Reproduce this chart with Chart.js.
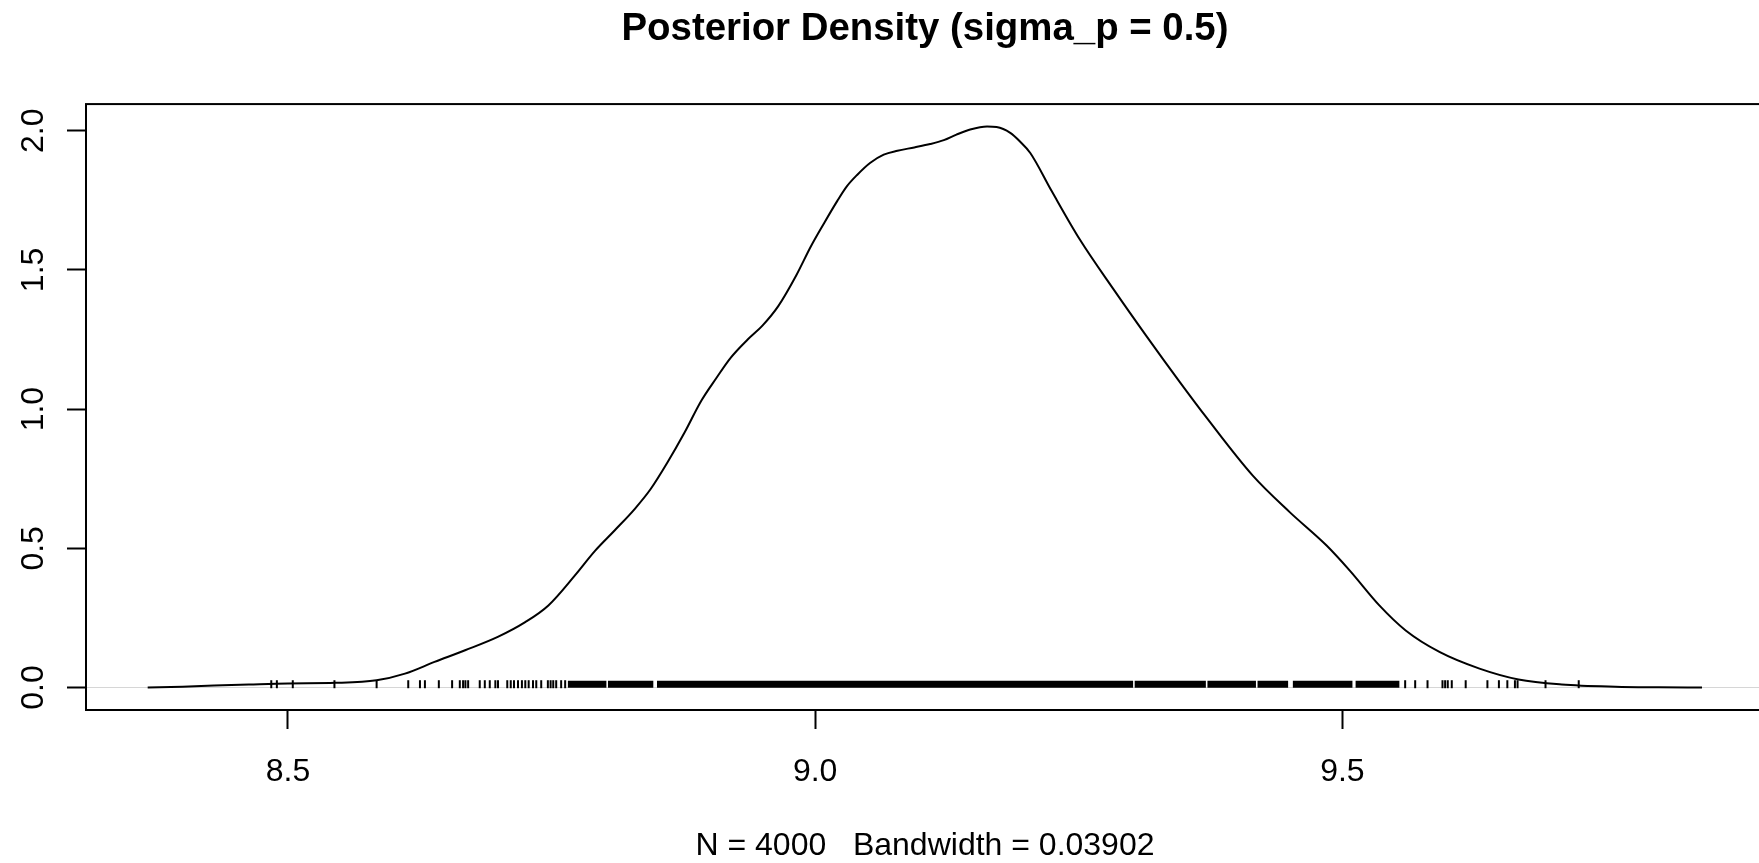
<!DOCTYPE html>
<html>
<head>
<meta charset="utf-8">
<title>Posterior Density (sigma_p = 0.5)</title>
<script src="https://cdn.jsdelivr.net/npm/chart.js@4.4.1/dist/chart.umd.min.js"></script>
<style>
    html, body { margin: 0; padding: 0; background: #fff; overflow: hidden; }
    #wrap { width: 1759px; height: 863px; overflow: hidden; }
    canvas { display: block; }
</style>
</head>
<body>
<div id="wrap"><canvas id="chart" width="1770" height="863"></canvas></div>
<script>
// kernel density estimate
const densityX = [
    8.367, 8.400, 8.430, 8.463, 8.500, 8.545, 8.584, 8.611, 8.639, 8.668,
    8.699, 8.725, 8.747, 8.772, 8.791, 8.810, 8.829, 8.844, 8.860, 8.876,
    8.892, 8.906, 8.920, 8.936, 8.950, 8.965, 8.982, 8.996, 9.008,
    9.021, 9.030, 9.040, 9.052, 9.065, 9.078, 9.094, 9.109, 9.122, 9.134,
    9.147, 9.163, 9.172, 9.185, 9.194, 9.204, 9.224, 9.251, 9.283, 9.314,
    9.346, 9.371, 9.415, 9.450, 9.485, 9.507, 9.535, 9.560, 9.592, 9.630,
    9.667, 9.708, 9.759, 9.800, 9.841
];
const densityY = [
    0.000, 0.003, 0.007, 0.011, 0.015, 0.017, 0.026, 0.050, 0.092, 0.134,
    0.182, 0.235, 0.295, 0.402, 0.490, 0.565, 0.642, 0.713, 0.809, 0.915,
    1.030, 1.110, 1.185, 1.250, 1.300, 1.370, 1.480, 1.585, 1.665,
    1.748, 1.800, 1.842, 1.884, 1.914, 1.928, 1.940, 1.952, 1.966, 1.986,
    2.004, 2.015, 2.013, 1.992, 1.962, 1.920, 1.785, 1.609, 1.430, 1.263,
    1.096, 0.970, 0.761, 0.630, 0.510, 0.420, 0.295, 0.205, 0.128, 0.068,
    0.029, 0.011, 0.003, 0.001, 0.000
];

// single rug ticks in the tails
const rugTicks = [
    8.4842, 8.4895, 8.5046, 8.5441, 8.5841, 8.6141, 8.6252, 8.6299, 8.6431, 8.6557,
    8.6630, 8.6661, 8.6683, 8.6709, 8.6819, 8.6867, 8.6914, 8.6967, 8.6992, 8.7080,
    8.7113, 8.7144, 8.7182, 8.7219, 8.7251, 8.7283, 8.7324, 8.7355, 8.7402, 8.7465,
    8.7491, 8.7516, 8.7544, 8.7591, 8.7629,
    9.5595, 9.5690, 9.5807, 9.5949, 9.5974, 9.5999, 9.6037, 9.6169, 9.6375, 9.6484,
    9.6564, 9.6636, 9.6661, 9.6926, 9.7241
];
// stretches where the rug ticks merge into a solid band
const rugBands = [
    [8.7655, 8.8020], [8.8035, 8.8465], [8.8500, 9.3015], [9.3030, 9.3705],
    [9.3720, 9.4180], [9.4195, 9.4485], [9.4530, 9.5095], [9.5125, 9.5540]
];

const xTicks = [8.5, 9.0, 9.5];
const yTicks = [0, 0.5, 1.0, 1.5, 2.0];
const titleText = 'Posterior Density (sigma_p = 0.5)';
const xLabel = 'N = 4000   Bandwidth = 0.03902';

const RUG_Y = 0.012;

Chart.defaults.font.family = '"Liberation Sans", Arial, Helvetica, sans-serif';
Chart.defaults.color = '#000';

const curve = densityX.map((x, i) => ({x: x, y: densityY[i]}));
const rugPoints = rugTicks.map(x => ({x: x, y: RUG_Y}));
const bandPoints = [];
rugBands.forEach(b => {
    bandPoints.push({x: b[0], y: RUG_Y}, {x: b[1], y: RUG_Y}, {x: b[1], y: null});
});

const boxPlugin = {
    id: 'box',
    afterDraw(chart) {
        const {ctx, chartArea: a} = chart;
        ctx.save();
        ctx.strokeStyle = '#000';
        ctx.lineWidth = 2;
        ctx.strokeRect(a.left, a.top, a.right - a.left, a.bottom - a.top);
        ctx.restore();
    }
};

new Chart(document.getElementById('chart'), {
    type: 'scatter',
    data: {
        datasets: [{
            data: bandPoints,
            showLine: true,
            spanGaps: false,
            borderColor: '#000',
            borderWidth: 7,
            borderCapStyle: 'butt',
            pointRadius: 0
        }, {
            data: rugPoints,
            pointStyle: 'line',
            rotation: 90,
            radius: 4,
            borderWidth: 2,
            borderColor: '#000',
            backgroundColor: '#000'
        }, {
            data: curve,
            showLine: true,
            borderColor: '#000',
            borderWidth: 2,
            cubicInterpolationMode: 'monotone',
            pointRadius: 0
        }]
    },
    options: {
        responsive: false,
        animation: false,
        events: [],
        layout: {padding: {left: 0, right: 2, top: 0, bottom: 0}},
        plugins: {
            legend: {display: false},
            tooltip: {enabled: false},
            title: {
                display: true,
                text: titleText,
                fullSize: false,
                color: '#000',
                font: {size: 38.4, weight: 'bold'},
                padding: {top: 6, bottom: 52}
            }
        },
        scales: {
            x: {
                type: 'linear',
                min: 8.3085,
                max: 9.8998,
                afterBuildTicks: s => { s.ticks = xTicks.map(v => ({value: v})); },
                afterFit: s => { s.height = 153; },
                border: {display: false},
                grid: {
                    drawOnChartArea: false,
                    drawTicks: true,
                    tickLength: 19,
                    tickWidth: 2,
                    tickColor: '#000'
                },
                ticks: {
                    font: {size: 32},
                    padding: 24,
                    maxRotation: 0,
                    callback: v => v.toFixed(1)
                },
                title: {
                    display: true,
                    text: xLabel,
                    font: {size: 32, lineHeight: 1},
                    padding: {top: 0, bottom: 1}
                }
            },
            y: {
                type: 'linear',
                min: -0.0806,
                max: 2.0956,
                afterBuildTicks: s => { s.ticks = yTicks.map(v => ({value: v})); },
                afterFit: s => { s.width = 86; },
                border: {display: false},
                grid: {
                    drawOnChartArea: true,
                    drawTicks: true,
                    tickLength: 19,
                    tickWidth: 2,
                    tickColor: '#000',
                    lineWidth: 1,
                    color: c => (c.tick && c.tick.value === 0) ? '#d6d6d6' : 'rgba(0,0,0,0)'
                },
                ticks: {
                    font: {size: 32},
                    padding: 11,
                    minRotation: 90,
                    maxRotation: 90,
                    crossAlign: 'center',
                    callback: v => v.toFixed(1)
                }
            }
        }
    },
    plugins: [boxPlugin]
});
</script>
</body>
</html>
